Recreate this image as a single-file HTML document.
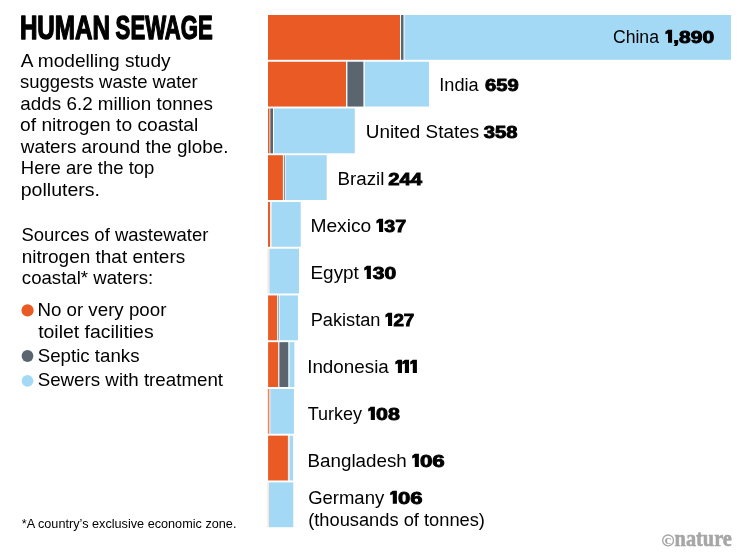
<!DOCTYPE html>
<html><head><meta charset="utf-8"><style>
html,body{margin:0;padding:0;background:#fff;}
svg{display:block;will-change:transform;}
text{font-family:"Liberation Sans",sans-serif;fill:#000;}
.lab{font-size:18.68px;}
.b{font-weight:bold;stroke:#000;stroke-width:0.9px;font-size:17.3px;}
.h{fill:none;stroke:none;}
.body{font-size:17.7px;}
.title{font-size:33.5px;font-weight:bold;stroke:#000;stroke-width:1.4px;stroke-linejoin:round;}
.fn{font-size:12.06px;}
.logo{font-family:"Liberation Serif",serif;font-weight:bold;fill:#A6A6A6;font-size:23.5px;stroke:#A6A6A6;stroke-width:0.6px;}
</style></head><body>
<svg width="751" height="556" viewBox="0 0 751 556">
<circle cx="27.55" cy="310.4" r="6.1" fill="#E95A24"/>
<circle cx="27.5" cy="356" r="5.9" fill="#5A6570"/>
<circle cx="27.5" cy="380.9" r="5.9" fill="#A3D9F5"/>
<circle cx="668.1" cy="540.4" r="5.4" fill="none" stroke="#A6A6A6" stroke-width="1.3"/>
<text x="664.5" y="543.5" style="font-family:'Liberation Serif',serif;font-weight:bold;font-size:12.6px;fill:#A6A6A6" textLength="6.6" lengthAdjust="spacingAndGlyphs">c</text>
<text x="674.6" y="545.6" class="logo" textLength="57.3" lengthAdjust="spacingAndGlyphs">nature</text>
<rect x="268" y="15.00" width="132.00" height="44.8" fill="#E95A24"/>
<rect x="401" y="15.00" width="2.50" height="44.8" fill="#5A6570"/>
<rect x="404.5" y="15.00" width="326.50" height="44.8" fill="#A3D9F5"/>
<rect x="268" y="61.74" width="78.00" height="44.8" fill="#E95A24"/>
<rect x="347.4" y="61.74" width="16.00" height="44.8" fill="#5A6570"/>
<rect x="364.8" y="61.74" width="64.20" height="44.8" fill="#A3D9F5"/>
<rect x="268" y="108.48" width="1.50" height="44.8" fill="#E95A24"/>
<rect x="270.3" y="108.48" width="2.70" height="44.8" fill="#5A6570"/>
<rect x="274" y="108.48" width="80.80" height="44.8" fill="#A3D9F5"/>
<rect x="268" y="155.22" width="14.90" height="44.8" fill="#E95A24"/>
<rect x="283.9" y="155.22" width="1.30" height="44.8" fill="#5A6570" fill-opacity="0.7"/>
<rect x="286" y="155.22" width="40.70" height="44.8" fill="#A3D9F5"/>
<rect x="268" y="201.96" width="2.10" height="44.8" fill="#E95A24"/>
<rect x="271.5" y="201.96" width="29.20" height="44.8" fill="#A3D9F5"/>
<rect x="267.5" y="248.70" width="1.30" height="44.8" fill="#E95A24" fill-opacity="0.18"/>
<rect x="269.4" y="248.70" width="29.60" height="44.8" fill="#A3D9F5"/>
<rect x="268.1" y="295.44" width="8.90" height="44.8" fill="#E95A24"/>
<rect x="277.8" y="295.44" width="1.20" height="44.8" fill="#5A6570" fill-opacity="0.55"/>
<rect x="279.6" y="295.44" width="18.40" height="44.8" fill="#A3D9F5"/>
<rect x="268.1" y="342.18" width="10.10" height="44.8" fill="#E95A24"/>
<rect x="279.4" y="342.18" width="8.90" height="44.8" fill="#5A6570"/>
<rect x="289.5" y="342.18" width="4.90" height="44.8" fill="#A3D9F5"/>
<rect x="267.8" y="388.92" width="1.60" height="44.8" fill="#E95A24" fill-opacity="0.75"/>
<rect x="270.3" y="388.92" width="23.70" height="44.8" fill="#A3D9F5"/>
<rect x="268.1" y="435.66" width="19.80" height="44.8" fill="#E95A24"/>
<rect x="288.6" y="435.66" width="0.70" height="44.8" fill="#5A6570" fill-opacity="0.35"/>
<rect x="289.9" y="435.66" width="3.20" height="44.8" fill="#A3D9F5"/>
<rect x="267.5" y="482.40" width="1.30" height="44.8" fill="#E95A24" fill-opacity="0.18"/>
<rect x="269" y="482.40" width="24.30" height="44.8" fill="#A3D9F5"/>
<text x="19.89" y="39.10" class="title" textLength="90.17" lengthAdjust="spacingAndGlyphs">HUMAN</text>
<text x="115.62" y="39.10" class="title" textLength="97.25" lengthAdjust="spacingAndGlyphs">SEWAGE</text>
<text x="20.74" y="66.60" class="body" textLength="149.94" lengthAdjust="spacingAndGlyphs">A modelling study</text>
<text x="19.99" y="88.12" class="body" textLength="177.77" lengthAdjust="spacingAndGlyphs">suggests waste water</text>
<text x="20.39" y="109.64" class="body" textLength="192.61" lengthAdjust="spacingAndGlyphs">adds 6.2 million tonnes</text>
<text x="20.06" y="131.16" class="body" textLength="178.27" lengthAdjust="spacingAndGlyphs">of nitrogen to coastal</text>
<text x="20.76" y="152.68" class="body" textLength="207.77" lengthAdjust="spacingAndGlyphs">waters around the globe.</text>
<text x="20.82" y="174.20" class="body" textLength="133.54" lengthAdjust="spacingAndGlyphs">Here are the top</text>
<text x="20.73" y="195.72" class="body" textLength="79.31" lengthAdjust="spacingAndGlyphs">polluters.</text>
<text x="21.46" y="241.40" class="body" textLength="186.88" lengthAdjust="spacingAndGlyphs">Sources of wastewater</text>
<text x="21.68" y="262.90" class="body" textLength="163.58" lengthAdjust="spacingAndGlyphs">nitrogen that enters</text>
<text x="21.83" y="284.40" class="body" textLength="131.35" lengthAdjust="spacingAndGlyphs">coastal* waters:</text>
<text x="37.41" y="315.90" class="body" textLength="128.97" lengthAdjust="spacingAndGlyphs">No or very poor</text>
<text x="38.16" y="337.60" class="body" textLength="115.44" lengthAdjust="spacingAndGlyphs">toilet facilities</text>
<text x="37.76" y="361.60" class="body" textLength="101.75" lengthAdjust="spacingAndGlyphs">Septic tanks</text>
<text x="37.66" y="386.00" class="body" textLength="185.43" lengthAdjust="spacingAndGlyphs">Sewers with treatment</text>
<text x="612.93" y="42.70" class="lab" textLength="46.02" lengthAdjust="spacingAndGlyphs">China</text>
<text x="673.17" y="42.70" class="lab b" textLength="40.93" lengthAdjust="spacingAndGlyphs">,890</text>
<text x="439.30" y="90.80" class="lab" textLength="39.39" lengthAdjust="spacingAndGlyphs">India</text>
<text x="485.07" y="90.80" class="lab b" textLength="33.70" lengthAdjust="spacingAndGlyphs">659</text>
<text x="365.77" y="137.80" class="lab" textLength="113.32" lengthAdjust="spacingAndGlyphs">United States</text>
<text x="483.80" y="137.80" class="lab b" textLength="33.77" lengthAdjust="spacingAndGlyphs">358</text>
<text x="337.49" y="184.80" class="lab" textLength="46.91" lengthAdjust="spacingAndGlyphs">Brazil</text>
<text x="388.29" y="184.80" class="lab b" textLength="33.87" lengthAdjust="spacingAndGlyphs">244</text>
<text x="310.42" y="231.80" class="lab" textLength="60.83" lengthAdjust="spacingAndGlyphs">Mexico</text>
<text x="384.27" y="231.80" class="lab b" textLength="21.80" lengthAdjust="spacingAndGlyphs">37</text>
<text x="310.50" y="278.80" class="lab" textLength="48.37" lengthAdjust="spacingAndGlyphs">Egypt</text>
<text x="372.89" y="278.80" class="lab b" textLength="23.45" lengthAdjust="spacingAndGlyphs">30</text>
<text x="310.66" y="325.80" class="lab" textLength="69.79" lengthAdjust="spacingAndGlyphs">Pakistan</text>
<text x="393.42" y="325.80" class="lab b" textLength="20.87" lengthAdjust="spacingAndGlyphs">27</text>
<text x="307.16" y="372.80" class="lab" textLength="81.70" lengthAdjust="spacingAndGlyphs">Indonesia</text>
<text x="307.81" y="419.80" class="lab" textLength="54.30" lengthAdjust="spacingAndGlyphs">Turkey</text>
<text x="376.03" y="419.80" class="lab b" textLength="23.83" lengthAdjust="spacingAndGlyphs">08</text>
<text x="307.56" y="466.80" class="lab" textLength="99.21" lengthAdjust="spacingAndGlyphs">Bangladesh</text>
<text x="419.95" y="466.80" class="lab b" textLength="24.83" lengthAdjust="spacingAndGlyphs">06</text>
<text x="308.16" y="503.60" class="lab" textLength="76.02" lengthAdjust="spacingAndGlyphs">Germany</text>
<text x="397.91" y="503.60" class="lab b" textLength="24.53" lengthAdjust="spacingAndGlyphs">06</text>
<text x="308.13" y="525.50" class="lab" textLength="176.84" lengthAdjust="spacingAndGlyphs">(thousands of tonnes)</text>
<text x="21.79" y="527.60" class="fn" textLength="214.63" lengthAdjust="spacingAndGlyphs">*A country’s exclusive economic zone.</text>
<path d="M668.0 29.75H672.1V42.80H668.0V33.45L665.4 34.35V31.75Z"/>
<path d="M379.0 218.85H383.1V231.90H379.0V222.55L376.4 223.45V220.85Z"/>
<path d="M366.8 265.85H370.9V278.90H366.8V269.55L364.2 270.45V267.85Z"/>
<path d="M388.0 312.85H392.1V325.90H388.0V316.55L385.4 317.45V314.85Z"/>
<path d="M397.9 359.85H402.0V372.90H397.9V363.55L395.3 364.45V361.85Z"/>
<path d="M404.9 359.85H409.0V372.90H404.9V363.55L402.3 364.45V361.85Z"/>
<path d="M412.8 359.85H416.9V372.90H412.8V363.55L410.2 364.45V361.85Z"/>
<path d="M370.8 406.85H374.9V419.90H370.8V410.55L368.2 411.45V408.85Z"/>
<path d="M414.8 453.85H418.9V466.90H414.8V457.55L412.2 458.45V455.85Z"/>
<path d="M392.8 490.65H396.9V503.70H392.8V494.35L390.2 495.25V492.65Z"/>
</svg>
</body></html>
